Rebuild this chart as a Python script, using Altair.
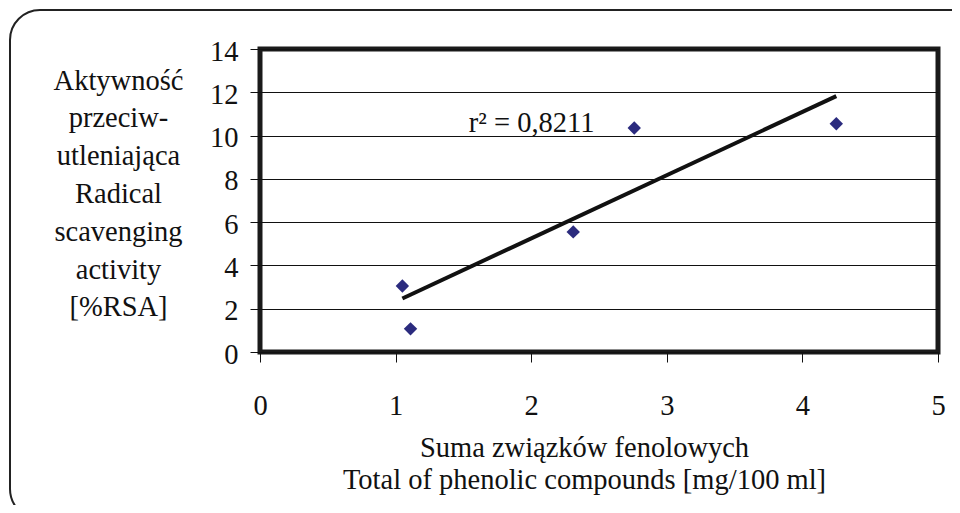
import altair as alt
import pandas as pd

# data
phenolic = [1.05, 1.11, 2.31, 2.76, 4.25]
rsa = [3.05, 1.07, 5.55, 10.35, 10.55]
r2_text = ["r² = 0,8211"]
r2_pos_x = [1.54]
r2_pos_y = [10.15]

x_title = ["Suma związków fenolowych", "Total of phenolic compounds [mg/100 ml]"]
y_title = ["Aktywność", "przeciw-", "utleniająca", "Radical", "scavenging", "activity", "[%RSA]"]

df = pd.DataFrame({"x": phenolic, "y": rsa})
ann = pd.DataFrame({"x": r2_pos_x, "y": r2_pos_y, "t": r2_text})
frame_df = pd.DataFrame({"k": [0]})

FONT = "Times New Roman, Liberation Serif, serif"
FS = 28.5

xs = alt.Scale(domain=[0, 5], nice=False, zero=True)
ys = alt.Scale(domain=[0, 14], nice=False)

xaxis = alt.Axis(values=[0, 1, 2, 3, 4, 5], format="d", title=x_title, labelPadding=29,
                 labelFlush=False, titlePadding=14, titleLineHeight=32, titleX=324,
                 titleAlign="center", grid=False, tickSize=10)
yaxis = alt.Axis(values=list(range(0, 15, 2)), format="d", title=y_title, titleAngle=0,
                 labelFlush=False, labelOffset=2, titleX=-142, titleY=31, titleAlign="center",
                 titleBaseline="middle", titleLineHeight=37.8, labelPadding=12,
                 grid=True, tickSize=10)

border = alt.Chart(frame_df).mark_rect(
    filled=False, stroke="#222222", strokeWidth=2, cornerRadius=30
).encode(
    x=alt.value(-250), x2=alt.value(725), y=alt.value(-39), y2=alt.value(470)
)

points = alt.Chart(df).mark_point(
    shape="diamond", filled=True, size=180, color="#2B2B7E", opacity=1
).encode(
    x=alt.X("x:Q", scale=xs, axis=xaxis),
    y=alt.Y("y:Q", scale=ys, axis=yaxis),
)

trend = alt.Chart(df).transform_regression("x", "y").mark_line(
    color="#111111", strokeWidth=4
).encode(x=alt.X("x:Q", scale=xs), y=alt.Y("y:Q", scale=ys))

label = alt.Chart(ann).mark_text(
    align="left", baseline="alphabetic", font=FONT, fontSize=FS, color="#111111"
).encode(x=alt.X("x:Q", scale=xs), y=alt.Y("y:Q", scale=ys), text="t:N")

chart = alt.layer(border, points, trend, label).properties(
    width=678, height=303,
    autosize=alt.AutoSizeParams(type="none"),
    padding={"left": 252, "top": 41, "right": 14, "bottom": 153},
    background="white",
).configure_view(
    stroke="#1a1a1a", strokeWidth=5
).configure_axis(
    labelFont=FONT, labelFontSize=FS, labelColor="#111111",
    titleFont=FONT, titleFontSize=FS, titleFontWeight="normal", titleColor="#111111",
    tickColor="#111111", tickWidth=1, gridColor="#111111", gridWidth=1,
    gridOpacity=1, domain=False
)

chart.save("out.html", embed_options={"renderer": "svg", "actions": False})
